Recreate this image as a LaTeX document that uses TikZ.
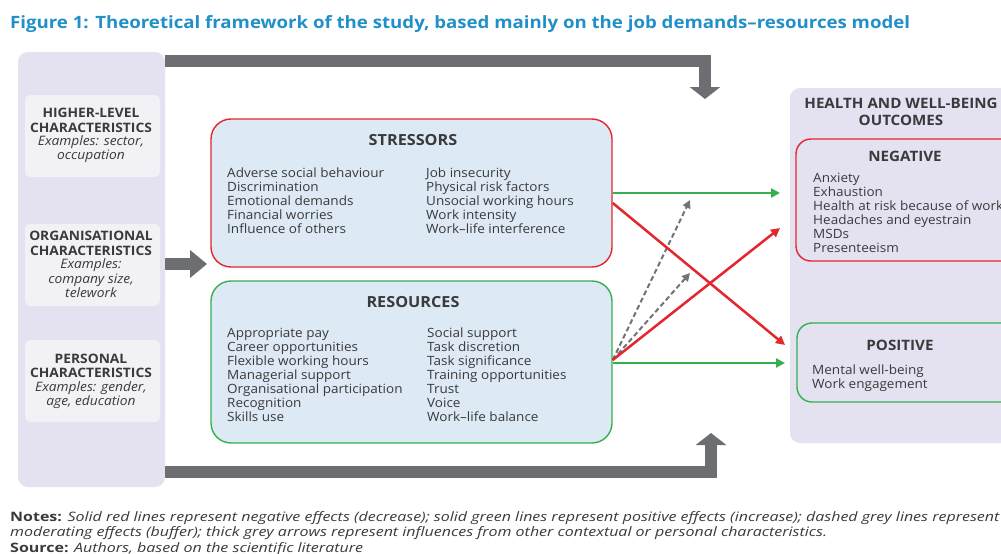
\documentclass[tikz,border=0pt]{standalone}
\usepackage{fontspec}
\setmainfont[FakeStretch=1.06]{Open Sans}
\newfontfamily\titlefont[FakeStretch=1.1]{Open Sans}
\newfontfamily\notesfont[FakeStretch=1.23]{Open Sans}
\usetikzlibrary{arrows.meta,calc}

\definecolor{titleblue}{HTML}{2290C8}
\definecolor{textc}{HTML}{3A3A3C}
\definecolor{panelc}{HTML}{E4E2F0}
\definecolor{subc}{HTML}{F2F1F6}
\definecolor{boxblue}{HTML}{DDE9F4}
\definecolor{negred}{HTML}{E4262E}
\definecolor{posgreen}{HTML}{34B14E}
\definecolor{arrowgrey}{HTML}{6D6E72}
\definecolor{dashgrey}{HTML}{707478}

\tikzset{
  panel/.style={fill=panelc, rounded corners=10pt, draw=none, inner sep=0pt},
  subbox/.style={fill=subc, rounded corners=5pt, draw=none, inner sep=0pt},
  factorbox/.style={fill=boxblue, rounded corners=20pt, line width=1.4pt, inner sep=0pt},
  outbox/.style={rounded corners=15pt, line width=1.4pt, inner sep=0pt},
  % multi-line lists are anchored at the baseline of their last line
  body/.style={font=\fontsize{12.75}{14}\selectfont, text=textc, align=left, inner sep=0pt, anchor=base west},
  heading/.style={font=\bfseries\fontsize{15.3}{17}\selectfont, text=textc, inner sep=0pt, anchor=base},
  outhead/.style={font=\bfseries\fontsize{14.3}{17}\selectfont, text=textc, inner sep=0pt, anchor=base},
  sidehead/.style={font=\bfseries\fontsize{13}{14}\selectfont, text=textc, inner sep=0pt, anchor=base},
  sideex/.style={font=\itshape\fontsize{13}{14}\selectfont, text=textc, inner sep=0pt, anchor=base},
  bigarrow/.style={draw=arrowgrey, line width=12pt, line join=miter,
    -{Triangle[width=30pt,length=12pt]}},
  negeff/.style={draw=negred, line width=2.5pt, -{Triangle[width=9pt,length=9pt]}},
  poseff/.style={draw=posgreen, line width=2.5pt, -{Triangle[width=9pt,length=9pt]}},
  buffer/.style={draw=dashgrey, line width=2pt, dash pattern=on 5pt off 3pt,
    -{Triangle[width=8pt,length=8pt]}},
}

\begin{document}
\begin{tikzpicture}[x=1pt,y=-1pt]
\useasboundingbox (0,0) rectangle (1001,554);
\fill[white] (0,0) rectangle (1001,554);
\clip (0,0) rectangle (1001,554);

% title
\node[anchor=base west, inner sep=0pt, text=titleblue,
      font=\titlefont\bfseries\fontsize{16.95}{19}\selectfont] (title) at (10,28)
  {Figure 1: Theoretical framework of the study, based mainly on the job demands–resources model};

% left column of contextual characteristics
\node[panel, minimum width=147pt, minimum height=435pt] (lp) at (91.5,269.5) {};
\node[subbox, minimum width=135pt, minimum height=82pt] (hl) at (92.5,136) {};
\node[subbox, minimum width=135pt, minimum height=82pt] (oc) at (92.5,265) {};
\node[subbox, minimum width=135pt, minimum height=82pt] (pc) at (92.5,381) {};

\node[sidehead] (hl1) at (91,117) {HIGHER-LEVEL};
\node[sidehead] (hl2) at (91,132) {CHARACTERISTICS};
\node[sideex]   (hl3) at (91,145) {Examples: sector,};
\node[sideex]   (hl4) at (91,159) {occupation};

\node[sidehead] (oc1) at (91,240) {ORGANISATIONAL};
\node[sidehead] (oc2) at (91,255) {CHARACTERISTICS};
\node[sideex]   (oc3) at (91,268) {Examples:};
\node[sideex]   (oc4) at (91,283) {company size,};
\node[sideex]   (oc5) at (91,297) {telework};

\node[sidehead] (pc1) at (91,363) {PERSONAL};
\node[sidehead] (pc2) at (91,377) {CHARACTERISTICS};
\node[sideex]   (pc3) at (91,391) {Examples: gender,};
\node[sideex]   (pc4) at (91,405) {age, education};

% stressors and resources
\node[factorbox, draw=negred, minimum width=401pt, minimum height=148pt] (str) at (411.5,193) {};
\node[factorbox, draw=posgreen, minimum width=401pt, minimum height=162pt] (res) at (411.5,362) {};

\node[heading] (strh) at (413,145) {STRESSORS};
\node[body] (strl) at (227,233) {Adverse social behaviour\\Discrimination\\Emotional demands\\Financial worries\\Influence of others};
\node[body] (strr) at (426,233) {Job insecurity\\Physical risk factors\\Unsocial working hours\\Work intensity\\Work–life interference};

\node[heading] (resh) at (413,307) {RESOURCES};
\node[body] (resl) at (227,421) {Appropriate pay\\Career opportunities\\Flexible working hours\\Managerial support\\Organisational participation\\Recognition\\Skills use};
\node[body] (resr) at (427,421) {Social support\\Task discretion\\Task significance\\Training opportunities\\Trust\\Voice\\Work–life balance};

% outcomes
\node[panel, minimum width=240pt, minimum height=355pt] (op) at (910,265.5) {};
\node[outhead] (oph1) at (901,108) {HEALTH AND WELL-BEING};
\node[outhead] (oph2) at (901,125) {OUTCOMES};

\node[outbox, draw=negred, minimum width=230pt, minimum height=122pt] (neg) at (911,200) {};
\node[outhead] (negh) at (905,161) {NEGATIVE};
\node[body] (negl) at (813,252) {Anxiety\\Exhaustion\\Health at risk because of work\\Headaches and eyestrain\\MSDs\\Presenteeism};

\node[outbox, draw=posgreen, minimum width=230pt, minimum height=79pt] (pos) at (912,362.5) {};
\node[outhead] (posh) at (900,350) {POSITIVE};
\node[body] (posl) at (812,388) {Mental well-being\\Work engagement};

% arrow ends in front of the outcome boxes
\coordinate (gTop) at (780,193);
\coordinate (rDown) at (785,345);
\coordinate (rUp) at (780,228);
\coordinate (gBot) at (785,363);
\coordinate (dHigh) at (690,200);
\coordinate (dLow) at (690,273);
\coordinate (topTip) at (705,99);
\coordinate (botTip) at (711,433);
\coordinate (midTip) at (207,264);

% thick grey influence arrows
\draw[bigarrow] ([yshift=-9pt]lp.north east) -| (topTip);
\draw[bigarrow] ([yshift=15pt]lp.south east) -| (botTip);
\draw[draw=arrowgrey, line width=12pt, -{Triangle[width=27pt,length=17pt]}]
  ([yshift=5.5pt]lp.east) -- (midTip);

% effects
\draw[buffer] ([yshift=2pt]res.east) -- (dHigh);
\draw[buffer] ([yshift=2pt]res.east) -- (dLow);
\draw[poseff] (str.east) -- (gTop);
\draw[negeff] ([yshift=-10pt]str.east) -- (rDown);
\draw[negeff] ([yshift=2pt]res.east) -- (rUp);
\draw[poseff] ([yshift=-1pt]res.east) -- (gBot);

% notes
\node[anchor=base west, inner sep=0pt, text=textc, align=left,
      font=\notesfont\fontsize{13}{15.5}\selectfont] (notes) at (10,552)
  {\textbf{Notes:} \textit{Solid red lines represent negative effects (decrease); solid green lines represent positive effects (increase); dashed grey lines represent}\\
   \textit{moderating effects (buffer); thick grey arrows represent influences from other contextual or personal characteristics.}\\
   \textbf{Source:} \textit{Authors, based on the scientific literature}};
\end{tikzpicture}
\end{document}
